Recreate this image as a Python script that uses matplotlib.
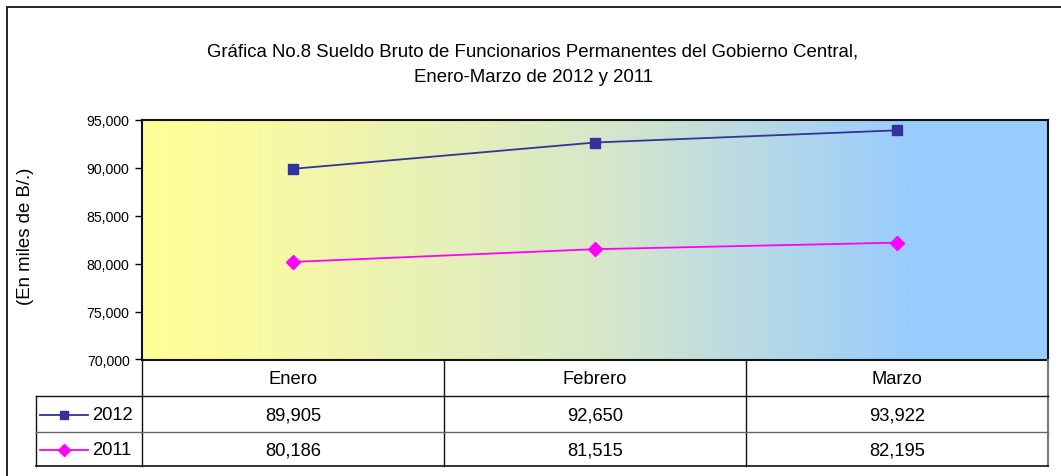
import matplotlib
matplotlib.use("Agg")
import matplotlib.pyplot as plt
import numpy as np
from matplotlib.colors import LinearSegmentedColormap
from matplotlib.patches import Rectangle

plt.rcParams['font.family'] = ['Liberation Sans', 'DejaVu Sans']

# ---- data ----
months = ["Enero", "Febrero", "Marzo"]
series_names = ["2012", "2011"]
values_2012 = [89905, 92650, 93922]
values_2011 = [80186, 81515, 82195]
y_ticks = [70000, 75000, 80000, 85000, 90000, 95000]
title_line1 = "Gráfica No.8 Sueldo Bruto de Funcionarios Permanentes del Gobierno Central,"
title_line2 = "Enero-Marzo de 2012 y 2011"
ylabel = "(En miles de B/.)"

W, H = 1061, 477
fig = plt.figure(figsize=(W / 100, H / 100), dpi=100)

def fx(px):
    return px / W

def fy(py):
    return 1 - py / H

# outer frame (only top and left visible)
fig.add_artist(Rectangle((fx(6.5), -0.5), 2, fy(7.5) + 0.5, transform=fig.transFigure,
                         fill=False, edgecolor="#222222", lw=1.4))

# main axes
L, R, T, B = 142, 1048, 121, 360.5
ax = fig.add_axes([fx(L), fy(B), fx(R - L), fy(T) - fy(B)])
x = np.arange(len(months))
ax.set_xlim(-0.5, 2.5)
ax.set_ylim(70000, 95000)

# gradient background
cmap = LinearSegmentedColormap.from_list(
    "g", [(0.0, "#FFFF99"), (0.08, "#FCFC9E"), (0.5, "#D8E8C8"), (0.85, "#99CCFF"), (1.0, "#99CCFF")])
grad = np.linspace(0, 1, 512).reshape(1, -1)
ax.imshow(grad, cmap=cmap, aspect="auto", extent=[0, 1, 0, 1], transform=ax.transAxes, zorder=0)

ax.plot(x, values_2012, color="#333399", lw=1.3, marker="s", markersize=7.5, zorder=3)
ax.plot(x, values_2011, color="#FF00FF", lw=1.3, marker="D", markersize=7.5, zorder=3)

ax.set_yticks(y_ticks)
ax.set_yticklabels([f"{v:,}" for v in y_ticks], fontsize=10.2)
ax.set_xticks([])
ax.tick_params(axis="y", length=5, width=1, pad=4)
for s in ax.spines.values():
    s.set_linewidth(1.5)
    s.set_color("#111111")

fig.text(fx(25), fy(236.5), ylabel, rotation=90, ha="center", va="center", fontsize=13.4)
fig.text(fx(533), fy(52), title_line1, ha="center", va="center", fontsize=13.4)
fig.text(fx(533), fy(78), title_line2, ha="center", va="center", fontsize=13.4)

# data table
TL, TT, TB = 36, 361, 467
tax = fig.add_axes([fx(TL), fy(TB), fx(R - TL), fy(TT) - fy(TB)])
unit = (R - L) / 3.0
x0 = -0.5 - (L - TL) / unit
tax.set_xlim(x0, 2.5)
tax.set_ylim(TB - TT, 0)
tax.axis("off")
rows = [0, 36, 72, 106]
lc = "#111111"
for xv in [-0.5, 0.5, 1.5]:
    tax.plot([xv, xv], [rows[0], rows[3]], color=lc, lw=1, clip_on=False)
tax.plot([2.5, 2.5], [rows[0], rows[3]], color="#777777", lw=1.5, clip_on=False)
tax.plot([x0, x0], [rows[1], rows[3]], color=lc, lw=1, clip_on=False)
tax.plot([x0, 2.5], [rows[1], rows[1]], color=lc, lw=1, clip_on=False)
tax.plot([x0, 2.5], [rows[2], rows[2]], color="#666666", lw=1, clip_on=False)
tax.plot([x0, 2.5], [rows[3], rows[3]], color=lc, lw=1.2, clip_on=False)

fs = 13.2
for i, m in enumerate(months):
    tax.text(i, (rows[0] + rows[1]) / 2 + 1, m, ha="center", va="center", fontsize=fs)
series = [(values_2012, "#333399", "s", 6), (values_2011, "#FF00FF", "D", 6.5)]
for r, ((vals, col, mk, ms), name) in enumerate(zip(series, series_names)):
    yc = (rows[r + 1] + rows[r + 2]) / 2 + 1
    for i, v in enumerate(vals):
        tax.text(i, yc, f"{v:,}", ha="center", va="center", fontsize=fs)
    lx0 = x0 + 4 / unit
    lx1 = x0 + 52 / unit
    tax.plot([lx0, lx1], [yc, yc], color=col, lw=1.3, clip_on=False)
    tax.plot([(lx0 + lx1) / 2], [yc], color=col, marker=mk, markersize=ms, clip_on=False)
    tax.text(x0 + 56 / unit, yc, name, ha="left", va="center", fontsize=fs)

fig.savefig("out.png", dpi=100)
